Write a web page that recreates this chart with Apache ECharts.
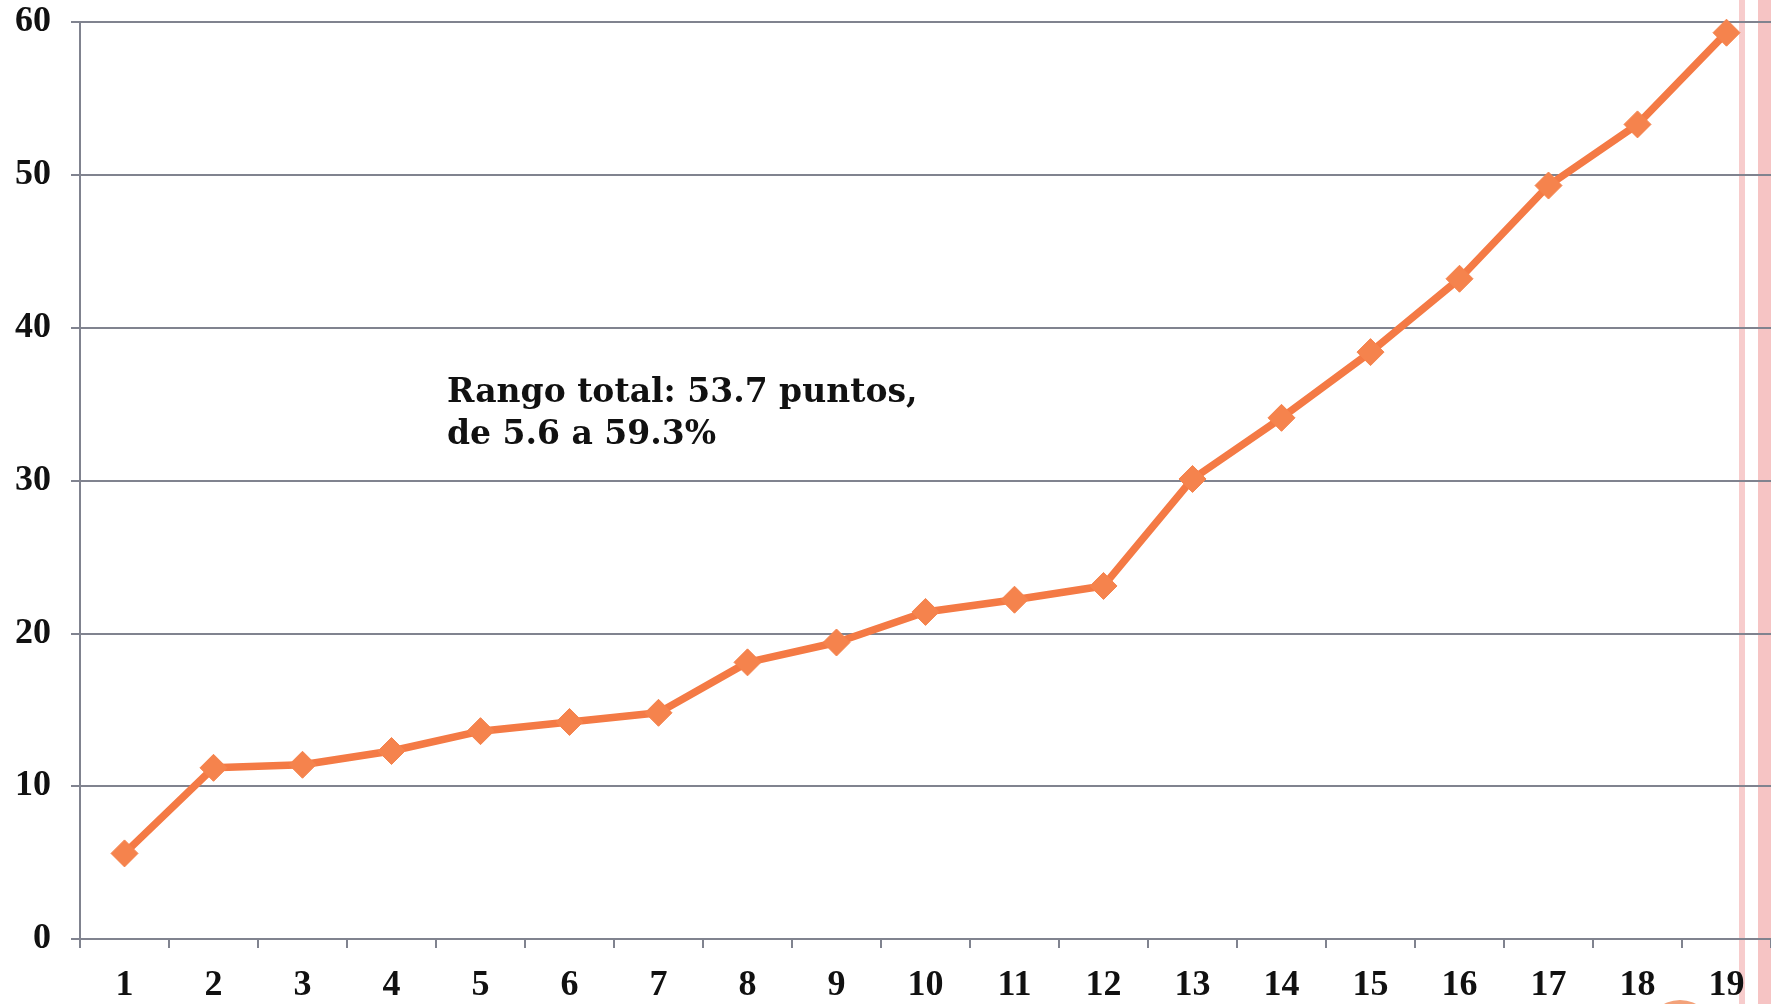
<!DOCTYPE html>
<html>
<head>
<meta charset="utf-8">
<script src="https://cdn.jsdelivr.net/npm/echarts@6/dist/echarts.min.js"></script>
<style>
  html, body { margin: 0; padding: 0; background: #fff; }
  #chart { width: 1771px; height: 1004px; }
</style>
</head>
<body>
<div id="chart"></div>
<script>
// Datos
const categories = ['1', '2', '3', '4', '5', '6', '7', '8', '9', '10',
  '11', '12', '13', '14', '15', '16', '17', '18', '19'];
const values = [5.6, 11.2, 11.4, 12.3, 13.6, 14.2, 14.8, 18.1, 19.4, 21.4,
  22.2, 23.1, 30.1, 34.1, 38.4, 43.2, 49.3, 53.3, 59.3];
const yTicks = [0, 10, 20, 30, 40, 50, 60];
const noteLines = ['Rango total: 53.7 puntos,', 'de 5.6 a 59.3%'];

const axisColor = '#80838f';
const lineColor = '#f47a45';
const tickFont = '"Liberation Serif", "DejaVu Serif", serif';
const noteFont = '"DejaVu Serif", "Liberation Serif", serif';

const chart = echarts.init(document.getElementById('chart'));

const option = {
  backgroundColor: '#ffffff',
  animation: false,
  grid: { left: 80, right: 0, top: 22, bottom: 59 },
  xAxis: {
    type: 'category',
    data: categories,
    boundaryGap: true,
    axisLine: { show: true, lineStyle: { color: axisColor, width: 2 } },
    axisTick: { show: true, length: 9, lineStyle: { color: axisColor, width: 2 } },
    axisLabel: {
      color: '#111',
      fontFamily: tickFont,
      fontWeight: 'bold',
      fontSize: 36,
      margin: 29
    },
    splitLine: { show: false }
  },
  yAxis: {
    type: 'value',
    min: yTicks[0],
    max: yTicks[yTicks.length - 1],
    interval: 10,
    axisLine: { show: true, lineStyle: { color: axisColor, width: 2 } },
    axisTick: { show: true, length: 9, lineStyle: { color: axisColor, width: 2 } },
    axisLabel: {
      color: '#111',
      fontFamily: tickFont,
      fontWeight: 'bold',
      fontSize: 36,
      margin: 29
    },
    splitLine: { show: true, lineStyle: { color: axisColor, width: 2 } }
  },
  series: [{
    type: 'line',
    data: values,
    symbol: 'diamond',
    symbolSize: 27,
    lineStyle: { color: lineColor, width: 7.5 },
    itemStyle: { color: '#f5834d', borderColor: '#f5834d' },
    z: 5
  }],
  graphic: [
    {
      type: 'text',
      left: 447,
      top: 372,
      style: {
        text: noteLines.join('\n'),
        font: 'bold 33px ' + noteFont,
        lineHeight: 42,
        fill: '#111'
      },
      z: 20
    },
    // franjas rosadas del borde derecho (detrás de todo)
    { type: 'rect', shape: { x: 1739, y: 0, width: 6, height: 1004 }, style: { fill: '#f7cccc' }, z: -10 },
    { type: 'rect', shape: { x: 1758, y: 0, width: 13, height: 1004 }, style: { fill: '#f6c4c4' }, z: -10 },
    // círculo recortado abajo
    { type: 'circle', shape: { cx: 1680, cy: 1034, r: 34 }, style: { fill: '#f3a27a' }, z: -10 }
  ]
};

chart.setOption(option);
</script>
</body>
</html>
